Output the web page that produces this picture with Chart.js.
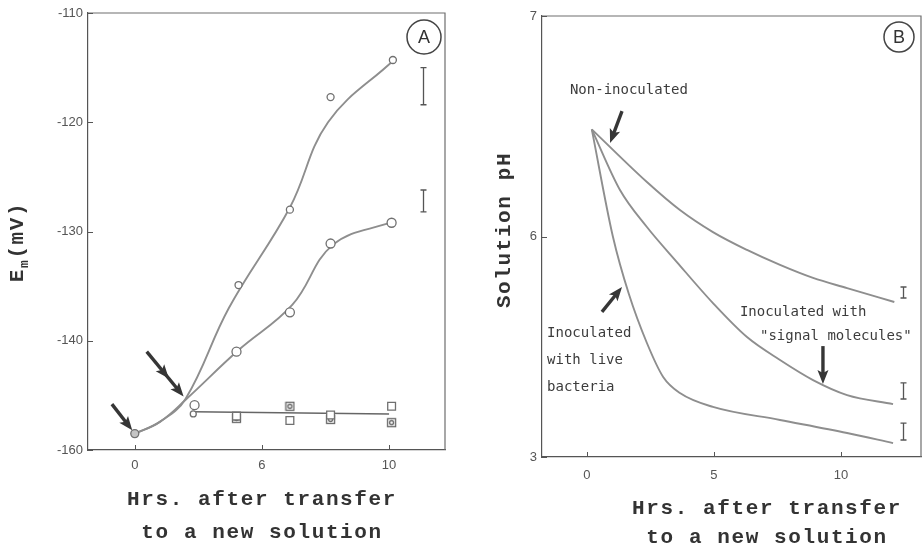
<!DOCTYPE html>
<html>
<head>
<meta charset="utf-8">
<script src="https://cdn.jsdelivr.net/npm/chart.js@4.4.1/dist/chart.umd.min.js"></script>
<style>
  html, body { margin: 0; padding: 0; background: #fff; }
  #wrap { position: relative; width: 922px; height: 552px; overflow: hidden; background: #fff; }
  #chartA { position: absolute; left: 0; top: 0; }
  #chartB { position: absolute; left: 460px; top: 0; }
</style>
</head>
<body>
<div id="wrap">
  <canvas id="chartA" width="460" height="552"></canvas>
  <canvas id="chartB" width="462" height="552"></canvas>
</div>
<script>
// ---- panel A : membrane potential (mV) vs hours ----
const xTicksA = [0, 5, 10];
const xTickLabelsA = ["0", "6", "10"];
const yTicksA = [-150, -140, -130, -120, -110];
const yTickLabelsA = ["-160", "-140", "-130", "-120", "-110"];

const startHours = [0];
const startEm = [-148.5];

const upperHours = [4.08, 6.1, 7.7, 10.15];
const upperEm = [-134.9, -128.0, -117.7, -114.3];

const lowerHours = [2.35, 4.0, 6.1, 7.7, 10.1];
const lowerEm = [-145.9, -141.0, -137.4, -131.1, -129.2];

const ctrlFirstHours = [2.3];
const ctrlFirstEm = [-146.7];
const ctrlOpenHours = [4.0, 6.1, 7.7, 10.1];
const ctrlOpenEm = [-146.9, -147.3, -146.8, -146.0];
const ctrlCrossHours = [4.0, 6.1, 7.7, 10.1];
const ctrlCrossEm = [-147.1, -146.0, -147.2, -147.5];
const ctrlLineHours = [2.3, 10.0];
const ctrlLineEm = [-146.5, -146.7];

// fitted curves as drawn in the figure
const curveUpHours = [0, 1.0, 2.0, 3.7, 6.1, 7.6, 10.19];
const curveUpEm = [-148.5, -147.4, -145.3, -137.0, -127.8, -120.0, -114.3];
const curveLowHours = [0, 1.0, 2.0, 4.06, 6.2, 7.8, 10.15];
const curveLowEm = [-148.5, -147.4, -145.4, -140.9, -136.7, -131.2, -129.1];

const errHoursA = [11.33, 11.33];
const errLowA = [-118.4, -128.2];
const errHighA = [-115.0, -126.2];

// ---- panel B : solution pH vs hours ----
const xTicksB = [0, 5, 10];
const xTickLabelsB = ["0", "5", "10"];
const yTicksB = [5, 6, 7];
const yTickLabelsB = ["3", "6", "7"];

const nonInocHours = [0.19, 2.36, 3.66, 4.96, 6.3, 7.6, 8.9, 10.24, 12.1];
const nonInocPH = [6.486, 6.247, 6.12, 6.02, 5.939, 5.871, 5.812, 5.766, 5.703];

const signalHours = [0.19, 1.3, 2.36, 3.54, 4.96, 6.3, 7.6, 8.9, 10.24, 12.05];
const signalPH = [6.486, 6.211, 6.043, 5.884, 5.698, 5.544, 5.44, 5.349, 5.281, 5.24];

const liveHours = [0.19, 1.02, 1.65, 2.36, 3.0, 3.66, 4.96, 7.6, 10.24, 12.05];
const livePH = [6.486, 6.0, 5.739, 5.517, 5.363, 5.29, 5.227, 5.168, 5.109, 5.063];

const errHoursB = [12.44, 12.44, 12.44];
const errLowB = [5.721, 5.263, 5.077];
const errHighB = [5.771, 5.336, 5.154];

const pts = (xs, ys) => xs.map((v, i) => ({ x: v, y: ys[i] }));

const lineGrey = "#8e8e8e";
const ink = "#555";
const tickFont = { family: "Liberation Sans", size: 13 };
const titleFont = "bold 21px 'Liberation Mono'";
const noteFont = "14px 'DejaVu Sans Mono'";

function crossedSquare() {
  const c = document.createElement("canvas");
  c.width = 11;
  c.height = 11;
  const g = c.getContext("2d");
  g.strokeStyle = "#666";
  g.lineWidth = 1.3;
  g.strokeRect(1.5, 1.5, 8, 8);
  g.beginPath();
  g.arc(5.5, 5.5, 2, 0, Math.PI * 2);
  g.stroke();
  return c;
}

function drawArrow(ctx, x1, y1, x2, y2, heads) {
  const ang = Math.atan2(y2 - y1, x2 - x1);
  const len = Math.hypot(x2 - x1, y2 - y1);
  ctx.save();
  ctx.translate(x1, y1);
  ctx.rotate(ang);
  ctx.fillStyle = "#363636";
  ctx.strokeStyle = "#363636";
  ctx.lineWidth = 3.4;
  ctx.beginPath();
  ctx.moveTo(0, 0);
  ctx.lineTo(len - 8, 0);
  ctx.stroke();
  for (const f of heads) {
    const tip = len * f;
    ctx.beginPath();
    ctx.moveTo(tip, 0);
    ctx.lineTo(tip - 14, -5.5);
    ctx.lineTo(tip - 11, 0);
    ctx.lineTo(tip - 14, 5.5);
    ctx.closePath();
    ctx.fill();
  }
  ctx.restore();
}

// box, inner ticks, error bars, arrows, notes and titles
const decor = {
  id: "decor",
  afterDatasetsDraw(chart, args, o) {
    const { ctx, chartArea: a } = chart;
    const x = chart.scales.x;
    const y = chart.scales.y;
    ctx.save();

    ctx.strokeStyle = "#6e6e6e";
    ctx.lineWidth = 1.2;
    ctx.beginPath();
    ctx.moveTo(a.left, a.top);
    ctx.lineTo(a.right, a.top);
    ctx.lineTo(a.right, a.bottom);
    ctx.stroke();

    ctx.strokeStyle = ink;
    ctx.lineWidth = 1;
    ctx.beginPath();
    for (const v of o.xTicks) {
      const px = Math.round(x.getPixelForValue(v)) + 0.5;
      ctx.moveTo(px, a.bottom);
      ctx.lineTo(px, a.bottom - 5);
    }
    for (const v of o.yTicks) {
      const py = Math.round(y.getPixelForValue(v)) + 0.5;
      ctx.moveTo(a.left, py);
      ctx.lineTo(a.left + 5, py);
    }
    ctx.stroke();

    // error bars
    ctx.strokeStyle = "#555";
    ctx.lineWidth = 1.3;
    ctx.beginPath();
    o.errX.forEach((ex, i) => {
      const px = Math.round(x.getPixelForValue(ex)) + 0.5;
      const p1 = y.getPixelForValue(o.errLow[i]);
      const p2 = y.getPixelForValue(o.errHigh[i]);
      ctx.moveTo(px, p1);
      ctx.lineTo(px, p2);
      ctx.moveTo(px - 3, p1);
      ctx.lineTo(px + 3, p1);
      ctx.moveTo(px - 3, p2);
      ctx.lineTo(px + 3, p2);
    });
    ctx.stroke();

    for (const ar of o.arrows) {
      drawArrow(ctx,
        x.getPixelForValue(ar.from[0]), y.getPixelForValue(ar.from[1]),
        x.getPixelForValue(ar.to[0]), y.getPixelForValue(ar.to[1]), ar.heads);
    }

    ctx.fillStyle = "#3c3c3c";
    ctx.font = noteFont;
    ctx.textAlign = "left";
    ctx.textBaseline = "middle";
    for (const n of o.notes) {
      ctx.fillText(n.text, x.getPixelForValue(n.at[0]), y.getPixelForValue(n.at[1]));
    }

    // circled panel letter
    const cx = a.right - o.badge.dx;
    const cy = a.top + o.badge.dy;
    ctx.strokeStyle = "#444";
    ctx.lineWidth = 1.5;
    ctx.beginPath();
    ctx.arc(cx, cy, o.badge.r, 0, Math.PI * 2);
    ctx.stroke();
    ctx.fillStyle = "#333";
    ctx.font = "18px 'Liberation Sans'";
    ctx.textAlign = "center";
    ctx.fillText(o.badge.text, cx, cy + 1);

    // axis titles
    ctx.fillStyle = "#333";
    ctx.font = titleFont;
    ctx.letterSpacing = "1.6px";
    ctx.textAlign = "center";
    o.xTitle.forEach((t, i) => ctx.fillText(t, o.xTitleX, o.xTitleY[i]));

    ctx.translate(o.yTitleX, o.yTitleY);
    ctx.rotate(-Math.PI / 2);
    ctx.textAlign = "left";
    if (o.yTitleSub) {
      const w1 = ctx.measureText(o.yTitle[0]).width;
      ctx.font = "bold 13px 'Liberation Mono'";
      const w2 = ctx.measureText(o.yTitleSub).width;
      ctx.font = titleFont;
      const w3 = ctx.measureText(o.yTitle[1]).width;
      let sx = -(w1 + w2 + w3) / 2;
      ctx.fillText(o.yTitle[0], sx, 0);
      ctx.font = "bold 13px 'Liberation Mono'";
      ctx.fillText(o.yTitleSub, sx + w1, 7);
      ctx.font = titleFont;
      ctx.fillText(o.yTitle[1], sx + w1 + w2, 0);
    } else {
      ctx.textAlign = "center";
      ctx.fillText(o.yTitle[0], 0, 0);
    }
    ctx.restore();
  },
};

function axes(xMin, xMax, xT, xL, yMin, yMax, yT, yL, yW, xH, xPad) {
  return {
    x: {
      type: "linear",
      min: xMin,
      max: xMax,
      afterBuildTicks: (s) => { s.ticks = xT.map((v) => ({ value: v })); },
      afterFit: (s) => { s.height = xH; },
      grid: { display: false, drawTicks: false },
      border: { display: true, color: ink, width: 1.2 },
      ticks: { padding: xPad, color: "#555", font: tickFont, maxRotation: 0, callback: (v, i) => xL[i] },
    },
    y: {
      type: "linear",
      min: yMin,
      max: yMax,
      afterBuildTicks: (s) => { s.ticks = yT.map((v) => ({ value: v })); },
      afterFit: (s) => { s.width = yW; },
      grid: { display: false, drawTicks: false },
      border: { display: true, color: ink, width: 1.2 },
      ticks: { padding: 5, color: "#555", font: tickFont, callback: (v, i) => yL[i] },
    },
  };
}

const curve = (data, mode) => ({
  data: data,
  showLine: true,
  borderColor: lineGrey,
  borderWidth: 1.9,
  pointRadius: 0,
  tension: 0.4,
  cubicInterpolationMode: mode || "default",
});

const markers = (data, style, r, fill) => ({
  data: data,
  showLine: false,
  pointStyle: style,
  pointRadius: r,
  pointBorderWidth: 1.3,
  pointBorderColor: "#707070",
  pointBackgroundColor: fill || "#fff",
});

new Chart(document.getElementById("chartA"), {
  type: "scatter",
  data: {
    datasets: [
      markers(pts(startHours, startEm), "circle", 4, "#c4c4c4"),
      markers(pts(upperHours, upperEm), "circle", 3.5),
      markers(pts(lowerHours, lowerEm), "circle", 4.5),
      markers(pts(ctrlFirstHours, ctrlFirstEm), "circle", 3),
      markers(pts(ctrlOpenHours, ctrlOpenEm), "rect", 5.5),
      markers(pts(ctrlCrossHours, ctrlCrossEm), crossedSquare(), 5),
      {
        data: pts(ctrlLineHours, ctrlLineEm),
        showLine: true,
        borderColor: "#666",
        borderWidth: 1.4,
        pointRadius: 0,
      },
      curve(pts(curveUpHours, curveUpEm)),
      curve(pts(curveLowHours, curveLowEm)),
    ],
  },
  options: {
    responsive: false,
    animation: false,
    events: [],
    layout: { padding: { left: 0, right: 15, top: 13, bottom: 0 } },
    plugins: {
      legend: { display: false },
      tooltip: { enabled: false },
      decor: {
        xTicks: xTicksA,
        yTicks: yTicksA,
        errX: errHoursA,
        errLow: errLowA,
        errHigh: errHighA,
        arrows: [
          { from: [-0.9, -145.8], to: [-0.1, -148.2], heads: [1] },
          { from: [0.47, -141.0], to: [1.92, -145.1], heads: [0.6, 1] },
        ],
        notes: [],
        badge: { text: "A", dx: 21, dy: 24, r: 17 },
        xTitle: ["Hrs. after transfer", "to a new solution"],
        xTitleX: 262,
        xTitleY: [500, 533],
        yTitle: ["E", "(mV)"],
        yTitleSub: "m",
        yTitleX: 18,
        yTitleY: 242,
      },
    },
    scales: axes(-1.84, 12.2, xTicksA, xTickLabelsA, -150, -110, yTicksA, yTickLabelsA, 88, 102, 8),
  },
  plugins: [decor],
});

new Chart(document.getElementById("chartB"), {
  type: "scatter",
  data: {
    datasets: [
      curve(pts(nonInocHours, nonInocPH), "monotone"),
      curve(pts(signalHours, signalPH), "monotone"),
      curve(pts(liveHours, livePH), "monotone"),
    ],
  },
  options: {
    responsive: false,
    animation: false,
    events: [],
    layout: { padding: { left: 0, right: 1, top: 16, bottom: 0 } },
    plugins: {
      legend: { display: false },
      tooltip: { enabled: false },
      decor: {
        xTicks: xTicksB,
        yTicks: yTicksB,
        errX: errHoursB,
        errLow: errLowB,
        errHigh: errHighB,
        arrows: [
          { from: [1.38, 6.569], to: [0.91, 6.424], heads: [1] },
          { from: [0.59, 5.658], to: [1.38, 5.771], heads: [1] },
          { from: [9.29, 5.503], to: [9.29, 5.331], heads: [1] },
        ],
        notes: [
          { text: "Non-inoculated", at: [-0.67, 6.664] },
          { text: "Inoculated", at: [-1.57, 5.562] },
          { text: "with live", at: [-1.57, 5.44] },
          { text: "bacteria", at: [-1.57, 5.317] },
          { text: "Inoculated with", at: [6.02, 5.658] },
          { text: "\"signal molecules\"", at: [6.81, 5.549] },
        ],
        badge: { text: "B", dx: 22, dy: 21, r: 15 },
        xTitle: ["Hrs. after transfer", "to a new solution"],
        xTitleX: 307,
        xTitleY: [509, 538],
        yTitle: ["Solution pH"],
        yTitleX: 45,
        yTitleY: 230,
      },
    },
    scales: axes(-1.77, 13.15, xTicksB, xTickLabelsB, 5, 7, yTicksB, yTickLabelsB, 82, 95, 11),
  },
  plugins: [decor],
});
</script>
</body>
</html>
